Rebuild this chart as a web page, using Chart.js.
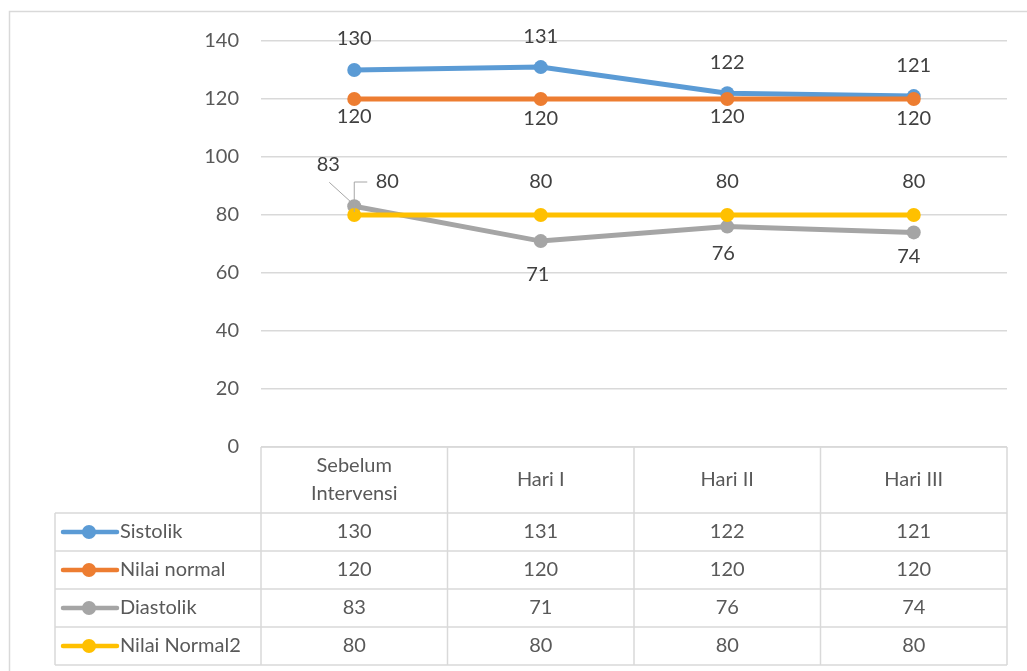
<!DOCTYPE html>
<html>
<head>
<meta charset="utf-8">
<script src="https://cdn.jsdelivr.net/npm/chart.js@4/dist/chart.umd.min.js"></script>
<style>
  body { margin: 0; background: #fff; }
  canvas { display: block; }
</style>
</head>
<body>
<canvas id="chart" width="1027" height="671"></canvas>
<script>
const categories = [['Sebelum', 'Intervensi'], 'Hari I', 'Hari II', 'Hari III'];
const seriesNames = ['Sistolik', 'Nilai normal', 'Diastolik', 'Nilai Normal2'];
const sistolik = [130, 131, 122, 121];
const nilaiNormal = [120, 120, 120, 120];
const diastolik = [83, 71, 76, 74];
const nilaiNormal2 = [80, 80, 80, 80];
const yTicks = [0, 20, 40, 60, 80, 100, 120, 140];

const colors = ['#5B9BD5', '#ED7D31', '#A5A5A5', '#FFC000'];
const FONT = 'Lato, "Open Sans", sans-serif';
const GRID = '#D9D9D9';
const TEXT = '#595959';

// label offsets per series (dx, dy from the point)
const labelOffsets = [
    [[0, -31], [0, -31], [0, -31], [0, -31]],
    [[0, 18], [0, 20], [0, 18], [0, 20]],
    [[-26, -42], [-3, 33], [-4, 27], [-5, 24]],
    [[33, -33], [0, -33], [0, -33], [0, -33]]
];

const ctx = document.getElementById('chart').getContext('2d');

const allSeries = [sistolik, nilaiNormal, diastolik, nilaiNormal2];

const labelsPlugin = {
    id: 'labels',
    afterDatasetsDraw(chart) {
        const c = chart.ctx;
        c.save();
        c.font = '20px ' + FONT;
        c.textAlign = 'center';
        c.textBaseline = 'middle';
        chart.data.datasets.forEach((ds, di) => {
            const meta = chart.getDatasetMeta(di);
            meta.data.forEach((pt, i) => {
                const [dx, dy] = labelOffsets[di][i];
                c.fillStyle = '#404040';
                c.fillText(String(ds.data[i]), pt.x + dx, pt.y + dy);
            });
        });
        // leader lines on the crowded first category
        const p2 = chart.getDatasetMeta(2).data[0];
        const p3 = chart.getDatasetMeta(3).data[0];
        c.strokeStyle = '#A6A6A6';
        c.lineWidth = 1;
        c.beginPath();
        c.moveTo(p2.x - 25, p2.y - 24);
        c.lineTo(p2.x - 3, p2.y - 4);
        c.moveTo(p3.x, p3.y - 3);
        c.lineTo(p3.x, p3.y - 33);
        c.lineTo(p3.x + 13, p3.y - 33);
        c.stroke();
        c.restore();
    }
};

const tablePlugin = {
    id: 'dataTable',
    afterDraw(chart) {
        const c = chart.ctx;
        const x = chart.scales.x;
        const area = chart.chartArea;
        const w = (area.right - area.left) / categories.length;
        const top = area.bottom;
        const headH = 66;
        const rowH = 38;
        const legendLeft = 55;
        const bottom = top + headH + rowH * seriesNames.length;

        c.save();
        // outer frame
        c.strokeStyle = GRID;
        c.lineWidth = 1.5;
        c.beginPath();
        c.moveTo(9.5, 671);
        c.lineTo(9.5, 11.5);
        c.lineTo(1027, 11.5);
        c.stroke();

        c.lineWidth = 1.5;
        c.beginPath();
        // header
        c.moveTo(area.left, top);
        c.lineTo(area.right, top);
        for (let r = 0; r <= seriesNames.length; r++) {
            const y = top + headH + r * rowH;
            c.moveTo(legendLeft, y);
            c.lineTo(area.right, y);
        }
        for (let i = 0; i <= categories.length; i++) {
            const xx = area.left + i * w;
            c.moveTo(xx, top);
            c.lineTo(xx, bottom);
        }
        c.moveTo(legendLeft, top + headH);
        c.lineTo(legendLeft, bottom);
        c.stroke();

        c.font = '20px ' + FONT;
        c.fillStyle = TEXT;
        c.textAlign = 'center';
        c.textBaseline = 'middle';
        categories.forEach((cat, i) => {
            const cx = x.getPixelForValue(i);
            if (Array.isArray(cat)) {
                c.fillText(cat[0], cx, top + 19);
                c.fillText(cat[1], cx, top + 47);
            } else {
                c.fillText(cat, cx, top + headH / 2);
            }
        });

        seriesNames.forEach((name, r) => {
            const cy = top + headH + r * rowH + rowH / 2;
            // legend key
            c.strokeStyle = colors[r];
            c.lineWidth = 4.5;
            c.lineCap = 'round';
            c.beginPath();
            c.moveTo(63, cy);
            c.lineTo(117, cy);
            c.stroke();
            c.fillStyle = colors[r];
            c.beginPath();
            c.arc(89, cy, 7, 0, Math.PI * 2);
            c.fill();
            c.fillStyle = TEXT;
            c.textAlign = 'left';
            c.fillText(name, 120, cy);
            c.textAlign = 'center';
            allSeries[r].forEach((v, i) => {
                c.fillText(String(v), x.getPixelForValue(i), cy);
            });
        });
        c.restore();
    }
};

new Chart(ctx, {
    type: 'line',
    data: {
        labels: categories,
        datasets: allSeries.map((s, i) => ({
            label: seriesNames[i],
            data: s,
            borderColor: colors[i],
            backgroundColor: colors[i],
            pointBackgroundColor: colors[i],
            pointBorderColor: colors[i],
            borderWidth: 5,
            pointRadius: 7,
            pointBorderWidth: 0,
            tension: 0,
            order: 3 - i
        }))
    },
    options: {
        responsive: false,
        animation: false,
        layout: {
            padding: { left: 0, top: 41, right: 20, bottom: 224 }
        },
        plugins: {
            legend: { display: false },
            tooltip: { enabled: false }
        },
        scales: {
            x: {
                display: false,
                offset: true
            },
            y: {
                min: 0,
                max: 140,
                afterFit(scale) { scale.width = 261; },
                afterBuildTicks(scale) {
                    scale.ticks = yTicks.map(v => ({ value: v }));
                },
                border: { display: false },
                grid: { color: GRID, lineWidth: 1.5, drawTicks: false },
                ticks: {
                    color: TEXT,
                    padding: 22,
                    font: { family: FONT, size: 20 }
                }
            }
        }
    },
    plugins: [labelsPlugin, tablePlugin]
});
</script>
</body>
</html>
